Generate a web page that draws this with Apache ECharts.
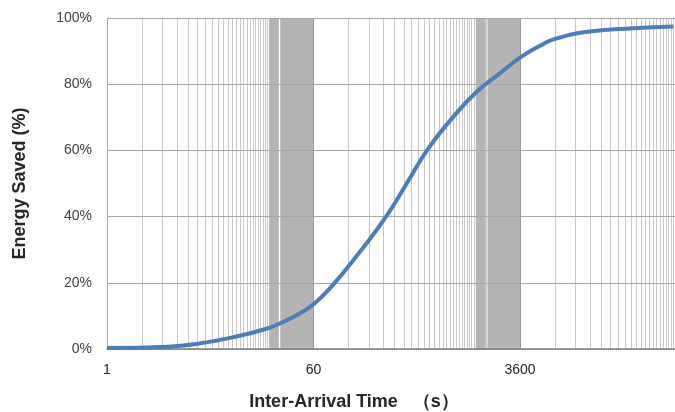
<!DOCTYPE html>
<html>
<head>
<meta charset="utf-8">
<script src="https://cdn.jsdelivr.net/npm/echarts@6/dist/echarts.min.js"></script>
<style>
html,body{margin:0;padding:0;background:#fff;}
#chart{width:675px;height:412px;}
</style>
</head>
<body>
<div id="chart"></div>
<script>
// ---- data ----
const timeValues   = [1, 3.3, 6.3, 12, 24, 33, 46, 60, 83, 150, 253, 375, 569, 900, 1525, 2400, 3600, 5350, 7200, 14400, 34000, 75000];
const energySaved  = [0.3, 0.7, 1.7, 3.5, 6.2, 8.2, 10.8, 13.5, 18.3, 29.3, 40, 49.6, 60, 69, 77.7, 83.2, 88, 91.6, 93.7, 95.9, 96.9, 97.4];
const xTickLabels  = ['1', '60', '3600'];
const yTickLabels  = ['0%', '20%', '40%', '60%', '80%', '100%'];
const xMin = 1, xMax = 77770, logBase = 60;
// dense minor-gridline regions that merge into solid grey (multiplier ranges within a decade)
const bandMultipliers = [[25, 30], [31.5, 60]];
const bandDecades = [1, 60];

// ---- gridline helpers (Excel-style minor gridlines on a base-60 log axis) ----
const minorGrid = [];
for (let d = 1; d <= xMax; d *= logBase) {
  for (let k = 2; k < logBase; k++) {
    const v = d * k;
    if (v < xMax) minorGrid.push({ xAxis: v });
  }
}
const bands = [];
bandDecades.forEach(d => bandMultipliers.forEach(([a, b]) => bands.push([{ xAxis: d * a }, { xAxis: d * b }])));

const chart = echarts.init(document.getElementById('chart'));
chart.setOption({
  animation: false,
  backgroundColor: '#ffffff',
  grid: { left: 107, top: 18, bottom: 63, right: 0, containLabel: false },
  title: {
    text: 'Inter-Arrival Time   （s）',
    left: 349, top: 388, textAlign: 'center',
    textStyle: { fontFamily: 'Liberation Sans', fontSize: 18, fontWeight: 'bold', color: '#262626' }
  },
  xAxis: {
    type: 'log', logBase: logBase, min: xMin, max: xMax,
    axisLine: { show: true, lineStyle: { color: '#808080', width: 1.5 } },
    axisTick: { show: false },
    splitLine: { show: true, lineStyle: { color: '#9a9a9a', width: 1 } },
    axisLabel: {
      showMaxLabel: false,
      margin: 14,
      fontFamily: 'Liberation Sans', fontSize: 14, color: '#262626',
      formatter: v => {
        const r = Math.round(v);
        const idx = [1, 60, 3600].indexOf(r);
        return idx >= 0 ? xTickLabels[idx] : '';
      }
    }
  },
  yAxis: {
    type: 'value', min: 0, max: 100, interval: 20,
    name: 'Energy Saved (%)', nameLocation: 'middle', nameGap: 78, nameRotate: 90,
    nameTextStyle: { fontFamily: 'Liberation Sans', fontSize: 18, fontWeight: 'bold', color: '#262626' },
    axisLine: { show: true, lineStyle: { color: '#a6a6a6', width: 1 } },
    axisTick: { show: false },
    splitLine: { show: true, lineStyle: { color: '#a6a6a6', width: 1 } },
    axisLabel: {
      margin: 15, fontFamily: 'Liberation Sans', fontSize: 14, color: '#404040',
      formatter: v => yTickLabels[Math.round(v / 20)]
    }
  },
  series: [
    {
      type: 'line', data: [], z: -3, silent: true,
      markArea: { silent: true, z: -1, itemStyle: { color: '#b4b4b4' }, data: bands },
      markLine: {
        silent: true, z: -2, symbol: ['none', 'none'], label: { show: false },
        lineStyle: { color: '#c8c8c8', width: 1, type: 'solid' },
        data: minorGrid
      }
    },
    {
      type: 'line', z: 5, smooth: 0.5, symbol: 'none',
      lineStyle: { color: '#4a7ebb', width: 4 },
      data: timeValues.map((t, i) => [t, energySaved[i]])
    }
  ]
});
</script>
</body>
</html>
